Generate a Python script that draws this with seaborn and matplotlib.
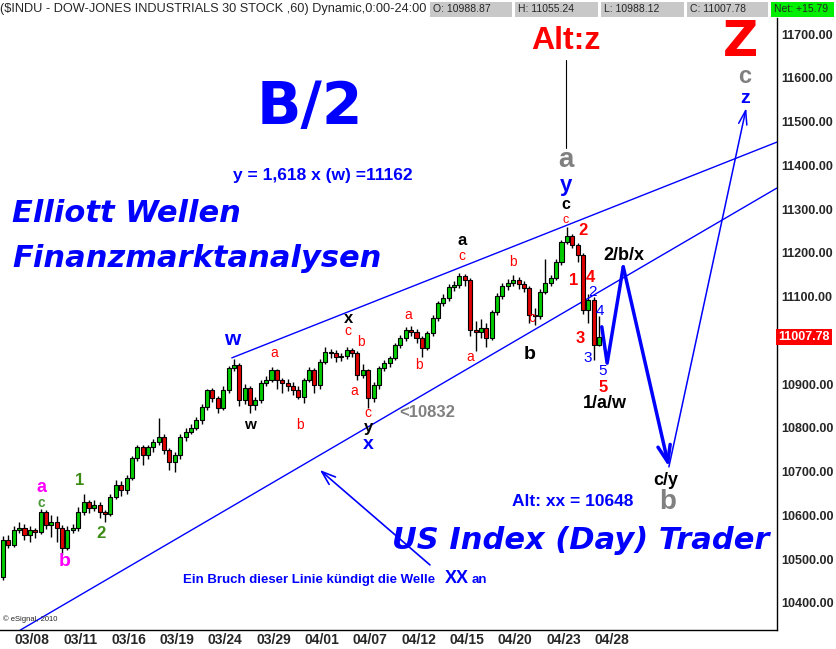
import numpy as np
import pandas as pd
import matplotlib
matplotlib.use("Agg")
import matplotlib.pyplot as plt
from matplotlib import font_manager
from matplotlib.patches import Rectangle
import seaborn as sns

# ---- data (hourly $INDU candles, bar index = position on the chart) ----
date_labels = ["03/08", "03/11", "03/16", "03/19", "03/24", "03/29", "04/01",
               "04/07", "04/12", "04/15", "04/20", "04/23", "04/28"]
date_bars = [5.4, 14.4, 23.4, 32.4, 41.4, 50.4, 59.4, 68.4, 77.4, 86.4, 95.4, 104.4, 113.4]

price_ticks = [10400, 10500, 10600, 10700, 10800, 10900, 11000,
               11100, 11200, 11300, 11400, 11500, 11600, 11700]

first_open = 10459.0
closes = [10544, 10532, 10567, 10571, 10555, 10567, 10563, 10608, 10578, 10585,
          10571, 10526, 10567, 10571, 10608, 10631, 10617, 10624, 10608, 10603,
          10642, 10670, 10658, 10686, 10731, 10756, 10738, 10756, 10768, 10779,
          10750, 10722, 10738, 10779, 10791, 10800, 10818, 10848, 10887, 10868,
          10846, 10887, 10937, 10944, 10864, 10891, 10852, 10864, 10903, 10910,
          10932, 10910, 10903, 10896, 10887, 10871, 10910, 10932, 10898, 10951,
          10973, 10971, 10962, 10965, 10978, 10971, 10921, 10932, 10868, 10898,
          10937, 10948, 10960, 10989, 11005, 11024, 11019, 11005, 10983, 11017,
          11051, 11085, 11097, 11122, 11127, 11147, 11138, 11024, 11019, 11028,
          11005, 11065, 11101, 11124, 11131, 11138, 11129, 11120, 11058, 11056,
          11111, 11131, 11143, 11179, 11225, 11238, 11218, 11195, 11069, 11092,
          10988.87, 11007.78]
highs = [10552, 10556, 10575, 10585, 10580, 10575, 10572, 10615, 10612, 10600,
         10598, 10578, 10575, 10580, 10620, 10650, 10635, 10635, 10630, 10612,
         10648, 10680, 10678, 10692, 10735, 10762, 10760, 10762, 10775, 10822,
         10785, 10755, 10745, 10785, 10800, 10810, 10825, 10855, 10890, 10892,
         10872, 10895, 10942, 10958, 10948, 10900, 10895, 10870, 10910, 10918,
         10940, 10935, 10915, 10912, 10905, 10895, 10915, 10940, 10938, 10958,
         10985, 10980, 10978, 10972, 10985, 10982, 10975, 10945, 10935, 10905,
         10942, 10955, 10965, 10995, 11012, 11030, 11032, 11025, 11010, 11022,
         11058, 11090, 11105, 11128, 11135, 11155, 11152, 11142, 11045, 11050,
         11040, 11070, 11108, 11130, 11140, 11150, 11145, 11135, 11125, 11075,
         11118, 11185, 11150, 11185, 11230, 11258, 11242, 11222, 11200, 11105,
         11098, 11055.24]
lows = [10452, 10525, 10528, 10560, 10545, 10540, 10548, 10558, 10570, 10550,
        10540, 10510, 10520, 10560, 10565, 10600, 10605, 10610, 10595, 10585,
        10598, 10638, 10645, 10650, 10680, 10725, 10715, 10730, 10745, 10760,
        10740, 10705, 10700, 10730, 10770, 10785, 10795, 10810, 10840, 10860,
        10835, 10840, 10880, 10930, 10850, 10855, 10834, 10840, 10858, 10895,
        10905, 10890, 10880, 10885, 10875, 10865, 10857, 10905, 10880, 10890,
        10945, 10960, 10950, 10952, 10958, 10962, 10910, 10915, 10845, 10860,
        10890, 10930, 10940, 10955, 10982, 10998, 11010, 10995, 10962, 10978,
        11010, 11045, 11078, 11090, 11112, 11120, 11125, 11010, 10975, 11005,
        10985, 11000, 11058, 11095, 11115, 11125, 11118, 11110, 11040, 11035,
        11050, 11105, 11125, 11138, 11172, 11220, 11210, 11180, 11060, 11040,
        10955, 10988.12]
net_change = "+15.79"

# trend channel and wave projection (bar, price)
upper_bars = [42.6, 144.1]
upper_prices = [10960, 11453]
lower_bars = [3.2, 144.1]
lower_prices = [10338, 11348]
proj_bars = [111.5, 112.5, 115.5, 124.0]
proj_prices = [11031, 10948, 11168, 10711]
alt_bars = [124.0, 138.4]
alt_prices = [10711, 11531]

# ---- style ----
sns.set_style("white")
plt.rcParams["font.family"] = ["Liberation Sans", "DejaVu Sans"]
BLUE = "#0000ff"
RED = "#ff0000"
GRAY = "#808080"

# narrow font for the eSignal header / dates, if one is installed
installed = {f.name for f in font_manager.fontManager.ttflist}
if "Liberation Sans Narrow" in installed:
    NARROW, title_size, box_size = ["Liberation Sans Narrow"], 11.5, 8.5
elif "DejaVu Sans Condensed" in installed:
    NARROW, title_size, box_size = ["DejaVu Sans Condensed"], 9.5, 7.5
else:
    NARROW, title_size, box_size = ["Liberation Sans"], 9.2, 7.5

df = pd.DataFrame({"high": highs, "low": lows, "close": closes})
df["open"] = [first_open] + closes[:-1]
df["bar"] = np.arange(len(df))
up = df["close"] >= df["open"]

fig = plt.figure(figsize=(8.37, 6.49), dpi=100)
ax = fig.add_axes([0, 19 / 649, 777 / 837, 612 / 649])

# candles
ax.vlines(df["bar"], df["low"], df["high"], color="black", lw=1.0, zorder=2)
for mask, col in [(up, "#00cc00"), (~up, "#e00000")]:
    d = df[mask]
    h = (d["close"] - d["open"]).abs().clip(lower=2)
    ax.bar(d["bar"], h, bottom=d[["open", "close"]].min(axis=1), width=0.75,
           color=col, edgecolor="black", linewidth=0.8, zorder=3)

# channel lines
sns.lineplot(x=upper_bars, y=upper_prices, ax=ax, color=BLUE, lw=1, sort=False)
sns.lineplot(x=lower_bars, y=lower_prices, ax=ax, color=BLUE, lw=1, sort=False)

# projected path
sns.lineplot(x=proj_bars[:-1], y=proj_prices[:-1], ax=ax, color=BLUE, lw=2.5, sort=False)
ax.annotate("", xy=(proj_bars[-1], proj_prices[-1]), xytext=(proj_bars[-2], proj_prices[-2]),
            arrowprops=dict(arrowstyle="->,head_length=1.2,head_width=0.45", color=BLUE,
                            lw=2.5, shrinkA=0, shrinkB=0))
ax.annotate("", xy=(alt_bars[1], alt_prices[1]), xytext=(alt_bars[0], alt_prices[0]),
            arrowprops=dict(arrowstyle="->,head_length=1.0,head_width=0.3", color=BLUE,
                            lw=1.1, shrinkA=0, shrinkB=0))
# arrow pointing at lower channel line
ax.annotate("", xy=(59.0, 10704), xytext=(79.5, 10487),
            arrowprops=dict(arrowstyle="->,head_length=1.0,head_width=0.35", color=BLUE,
                            lw=1.2, shrinkA=0, shrinkB=0))
# Alt:z pointer
ax.plot([104.8, 104.8], [11641, 11440], color="black", lw=0.8)


def label(x, y, s, color, size, weight="bold", style="normal", ha="center", family=None):
    ax.text(x, y, s, color=color, fontsize=size, fontweight=weight, fontstyle=style,
            ha=ha, va="center", family=family, zorder=6)


big = ["DejaVu Sans"]
label(57.2, 11531, "B/2", BLUE, 42, family=big)
label(59.6, 11376, "y = 1,618 x (w) =11162", BLUE, 12.5)
label(1.7, 11289, "Elliott Wellen", BLUE, 22, style="italic", ha="left", family=big)
label(1.7, 11186, "Finanzmarktanalysen", BLUE, 22, style="italic", ha="left", family=big)
label(107.5, 10543, "US Index (Day) Trader", BLUE, 22, style="italic", family=big)
label(104.8, 11684, "Alt:z", RED, 23)
label(137.4, 11682, "Z", RED, 35, family=big)
label(138.2, 11604, "c", GRAY, 17)
label(138.2, 11552, "z", BLUE, 14)
label(104.8, 11412, "a", GRAY, 20)
label(104.8, 11353, "y", BLUE, 16)
label(104.8, 11310, "c", "black", 11.5)
label(104.8, 11276, "c", RED, 9, weight="normal")
label(106.1, 10631, "Alt: xx = 10648", BLUE, 12.5)
label(79.0, 10836, "<10832", GRAY, 12)
label(33.5, 10453, "Ein Bruch dieser Linie kündigt die Welle", BLUE, 9.5, ha="left")
label(82.3, 10456, "XX", BLUE, 13, ha="left")
label(87.3, 10453, "an", BLUE, 9.5, ha="left")

# wave counts on the right
label(108.0, 11252, "2", RED, 12)
label(106.3, 11136, "1", RED, 12)
label(109.3, 11143, "4", RED, 12)
label(107.4, 11005, "3", RED, 12)
label(111.7, 10893, "5", RED, 12)
label(109.7, 11110, "2", BLUE, 11, weight="normal")
label(108.9, 10960, "3", BLUE, 11, weight="normal")
label(111.2, 11067, "4", BLUE, 11, weight="normal")
label(111.7, 10930, "5", BLUE, 11, weight="normal")
label(112.1, 10855, "1/a/w", "black", 13)
label(115.6, 11195, "2/b/x", "black", 13)
label(123.5, 10681, "c/y", "black", 13)
label(123.8, 10630, "b", GRAY, 20)

# wave counts along the rally
label(7.1, 10664, "a", "#ff00ff", 13)
label(7.1, 10628, "c", "#4a9a3a", 10)
label(11.5, 10494, "b", "#ff00ff", 14)
label(14.3, 10681, "1", "#3c8c14", 12)
label(18.2, 10558, "2", "#3c8c14", 12)
label(42.6, 11003, "w", BLUE, 15)
label(46.0, 10807, "w", "black", 11)
label(50.5, 10971, "a", RED, 10, weight="normal")
label(55.3, 10807, "b", RED, 10, weight="normal")
label(64.4, 11051, "x", "black", 12)
label(64.2, 11021, "c", RED, 10, weight="normal")
label(66.7, 10996, "b", RED, 10, weight="normal")
label(65.4, 10884, "a", RED, 10, weight="normal")
label(68.0, 10834, "c", RED, 10, weight="normal")
label(68.0, 10800, "y", "black", 12)
label(68.0, 10763, "x", BLUE, 14)
label(75.4, 11058, "a", RED, 10, weight="normal")
label(77.5, 10944, "b", RED, 10, weight="normal")
label(87.0, 10962, "a", RED, 10, weight="normal")
label(85.5, 11229, "a", "black", 12)
label(85.5, 11193, "c", RED, 10, weight="normal")
label(95.0, 11179, "b", RED, 10, weight="normal")
label(98.5, 11051, "c", RED, 10, weight="normal")
label(98.1, 10967, "b", "black", 14)

ax.text(0.004, 0.012, "© eSignal, 2010", transform=ax.transAxes, fontsize=5.5,
        ha="left", va="bottom")

# axes
ax.set_xlim(-0.56, 144.13)
ax.set_ylim(10338.3, 11736.6)
ax.yaxis.tick_right()
ax.set_yticks(price_ticks)
# the 11000 label sits under the red last-price marker
ax.set_yticklabels(["" if p == 11000 else f"{p:.2f}" for p in price_ticks],
                   fontsize=9, fontweight="bold")
ax.tick_params(axis="y", length=0, pad=3)
ax.set_xticks(date_bars)
ax.set_xticklabels(date_labels, fontsize=10, fontweight="bold", family=NARROW)
ax.tick_params(axis="x", length=0, pad=2)
for side in ["top", "left"]:
    ax.spines[side].set_visible(False)
for side in ["right", "bottom"]:
    ax.spines[side].set_color("black")
    ax.spines[side].set_linewidth(1)

ax.text(1.0 + 1 / 777, closes[-1], f"{closes[-1]:.2f}", transform=ax.get_yaxis_transform(),
        color="white", fontsize=9, fontweight="bold", ha="left", va="center", zorder=10,
        clip_on=False, bbox=dict(boxstyle="square,pad=0.18", fc=RED, ec="none"))

# header bar
fig.text(0.0, 1 - 9 / 649, "($INDU - DOW-JONES INDUSTRIALS 30 STOCK ,60) Dynamic,0:00-24:00",
         fontsize=title_size, family=NARROW, ha="left", va="center")
last = df.iloc[-1]
hdr = [(f"O: {last['open']:.2f}", 430, 512, "#c8c8c8"),
       (f"H: {last['high']:.2f}", 515, 598, "#c8c8c8"),
       (f"L: {last['low']:.2f}", 601, 684, "#c8c8c8"),
       (f"C: {last['close']:.2f}", 687, 768, "#c8c8c8"),
       (f"Net: {net_change}", 771, 834, "#00ee00")]
for txt, x0, x1, fc in hdr:
    fig.patches.append(Rectangle((x0 / 837, 1 - 17 / 649), (x1 - x0) / 837, 15 / 649,
                                 transform=fig.transFigure, fc=fc, ec="none"))
    fig.text((x0 + 3) / 837, 1 - 9.5 / 649, txt, fontsize=box_size, family=NARROW,
             ha="left", va="center")

fig.savefig("out.png", dpi=100)
